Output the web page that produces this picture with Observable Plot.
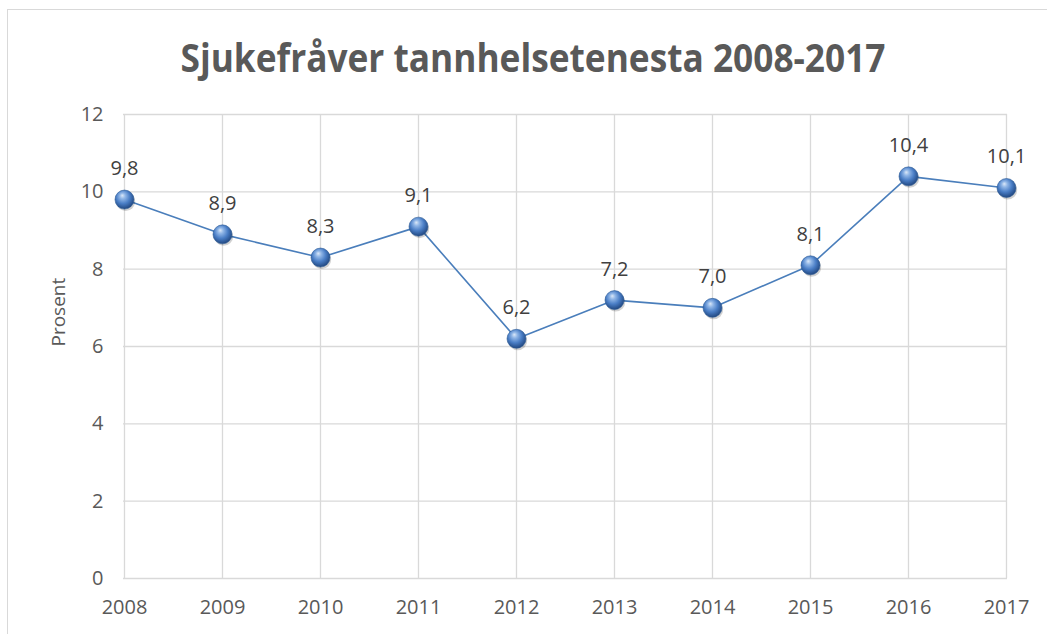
<!DOCTYPE html>
<html><head><meta charset="utf-8">
<script src="https://cdn.jsdelivr.net/npm/d3@7"></script>
<script src="https://cdn.jsdelivr.net/npm/@observablehq/plot@0.6"></script>
<style>
body{margin:0;background:#fff;}
#wrap{position:relative;width:1047px;height:634px;overflow:hidden;font-family:"Open Sans",sans-serif;}
#border{position:absolute;left:7px;top:9px;width:1200px;height:800px;border:1px solid #d9d9d9;box-sizing:border-box;}
#title{position:absolute;left:0;top:0;}
#chart{position:absolute;left:0;top:100px;}
</style></head><body>
<div id="wrap"><div id="border"></div><svg id="title" width="1047" height="100"></svg><div id="chart"></div></div>
<script>
const titleText = "Sjukefråver tannhelsetenesta 2008-2017";
const years = ["2008","2009","2010","2011","2012","2013","2014","2015","2016","2017"];
const values = [9.8, 8.9, 8.3, 9.1, 6.2, 7.2, 7.0, 8.1, 10.4, 10.1];
const yTicks = [0, 2, 4, 6, 8, 10, 12];
const yLabel = "Prosent";

const data = years.map((year, i) => ({year, value: values[i]}));
const fmt = v => v.toFixed(1).replace(".", ",");

d3.select("#title").append("text")
  .attr("x", 533).attr("y", 72)
  .attr("text-anchor", "middle")
  .attr("textLength", 705).attr("lengthAdjust", "spacingAndGlyphs")
  .attr("font-family", "Open Sans, sans-serif").attr("font-weight", 700)
  .attr("font-size", 39).attr("fill", "#595959")
  .text(titleText);

const grid = {stroke: "#d9d9d9", strokeWidth: 1.3, strokeOpacity: 1};
const plot = Plot.plot({
  width: 1047, height: 534,
  marginLeft: 123, marginRight: 40, marginTop: 14, marginBottom: 56,
  x: {type: "point", domain: years, padding: 0, label: null},
  y: {domain: [0, 12], label: null},
  style: {fontFamily: "Open Sans, sans-serif", fontSize: "20px", color: "#595959", background: "transparent"},
  marks: [
    Plot.ruleY(yTicks, grid),
    Plot.ruleX(years, grid),
    Plot.axisX({tickSize: 0, tickPadding: 21, label: null, fill: "#595959", fontSize: 20}),
    Plot.axisY({ticks: yTicks, tickSize: 0, tickPadding: 20, label: null, fill: "#595959", fontSize: 20}),
    Plot.line(data, {x: "year", y: "value", stroke: "#4a7ebb", strokeWidth: 1.6}),
    Plot.dot(data, {x: "year", y: "value", r: 9.5, fill: "#000", fillOpacity: 0.18, dx: 1.2, dy: 2}),
    Plot.dot(data, {x: "year", y: "value", r: 9.5, fill: "url(#sphere)", stroke: "#2c5a96", strokeWidth: 0.6}),
    Plot.text(data, {x: "year", y: "value", text: d => fmt(d.value), dy: -31, fill: "#404040", fontSize: 20}),
    Plot.text([yLabel], {frameAnchor: "left", dx: -65, rotate: -90, fill: "#595959", fontSize: 19})
  ]
});

const defs = d3.select(plot).insert("defs", ":first-child");
const g = defs.append("radialGradient").attr("id", "sphere")
  .attr("cx", "45%").attr("cy", "40%").attr("r", "60%").attr("fx", "38%").attr("fy", "28%");
[["0%", "#dbe8f8"], ["25%", "#8fb5e6"], ["60%", "#4a7ec6"], ["90%", "#2b5592"], ["100%", "#24487e"]]
  .forEach(([o, c]) => g.append("stop").attr("offset", o).attr("stop-color", c));

document.getElementById("chart").appendChild(plot);
</script>
</body></html>
